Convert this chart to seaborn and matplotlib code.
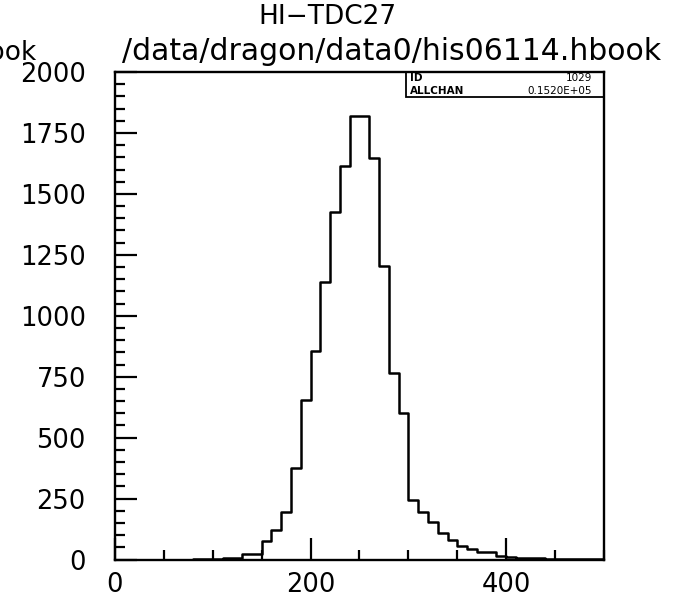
import numpy as np
import pandas as pd
import matplotlib
matplotlib.use("Agg")
import matplotlib.pyplot as plt
from matplotlib.ticker import MultipleLocator
from matplotlib.patches import Rectangle
import seaborn as sns

# histogram content, 10-unit channels from 0 to 500
bin_width = 10
x_min, x_max = 0, 500
counts = [
    0, 0, 0, 0, 0, 0, 0, 0, 1, 2,
    3, 7, 7, 23, 23, 77, 122, 196, 375, 655,
    856, 1138, 1426, 1613, 1818, 1818, 1648, 1205, 765, 600,
    243, 196, 152, 108, 78, 57, 43, 31, 29, 16,
    10, 8, 6, 5, 4, 3, 2, 2, 1, 1,
]
title = "HI\u2212TDC27"
file_name = "/data/dragon/data0/his06114.hbook"
hist_id = "1029"
allchan = "0.1520E+05"

sns.set_style("ticks")
plt.rcParams["font.family"] = ["DejaVu Sans"]
plt.rcParams["text.color"] = "black"

edges = np.arange(x_min, x_max + bin_width, bin_width)
df = pd.DataFrame({"channel": edges[:-1] + bin_width / 2, "count": counts})

fig = plt.figure(figsize=(6.82, 6.0), dpi=100)
ax = fig.add_axes([0.1686, 0.0675, 0.717, 0.8125])

sns.histplot(data=df, x="channel", weights="count", binwidth=bin_width,
             binrange=(x_min, x_max), element="step", fill=False,
             color="black", linewidth=1.8, ax=ax)

ax.set_xlim(x_min, x_max)
ax.set_ylim(0, 2000)
ax.set_xlabel("")
ax.set_ylabel("")

ax.xaxis.set_major_locator(MultipleLocator(200))
ax.xaxis.set_minor_locator(MultipleLocator(50))
ax.yaxis.set_major_locator(MultipleLocator(250))
ax.yaxis.set_minor_locator(MultipleLocator(50))

ax.tick_params(which="both", direction="in", width=1.6, color="black",
               labelcolor="black", top=False, right=False)
ax.tick_params(which="major", length=16)
ax.tick_params(which="minor", length=7.5)
ax.tick_params(axis="y", which="major", labelsize=18.5, pad=21)
ax.tick_params(axis="x", which="major", labelsize=18.5, pad=9)

for side in ["left", "bottom", "top", "right"]:
    ax.spines[side].set_visible(True)
    ax.spines[side].set_linewidth(1.7)
    ax.spines[side].set_color("black")

# stats box in the top right corner
ax.add_patch(Rectangle((0.595, 0.949), 0.405, 0.051, transform=ax.transAxes,
                       fill=False, edgecolor="black", linewidth=1.3,
                       clip_on=False))
ax.text(0.603, 0.987, "ID", transform=ax.transAxes, fontsize=7.5,
        ha="left", va="center", fontweight="bold")
ax.text(0.975, 0.987, hist_id, transform=ax.transAxes, fontsize=7.5,
        ha="right", va="center")
ax.text(0.603, 0.962, "ALLCHAN", transform=ax.transAxes, fontsize=7.5,
        ha="left", va="center", fontweight="bold")
ax.text(0.975, 0.962, allchan, transform=ax.transAxes, fontsize=7.5,
        ha="right", va="center")

fig.text(0.48, 0.972, title, fontsize=19, ha="center", va="center")
fig.text(0.574, 0.9, file_name, fontsize=21.5, ha="center", va="baseline")
fig.text(0.054, 0.9, "hbook", fontsize=19, ha="right", va="baseline")

fig.savefig("out.png", dpi=100, facecolor="white")
